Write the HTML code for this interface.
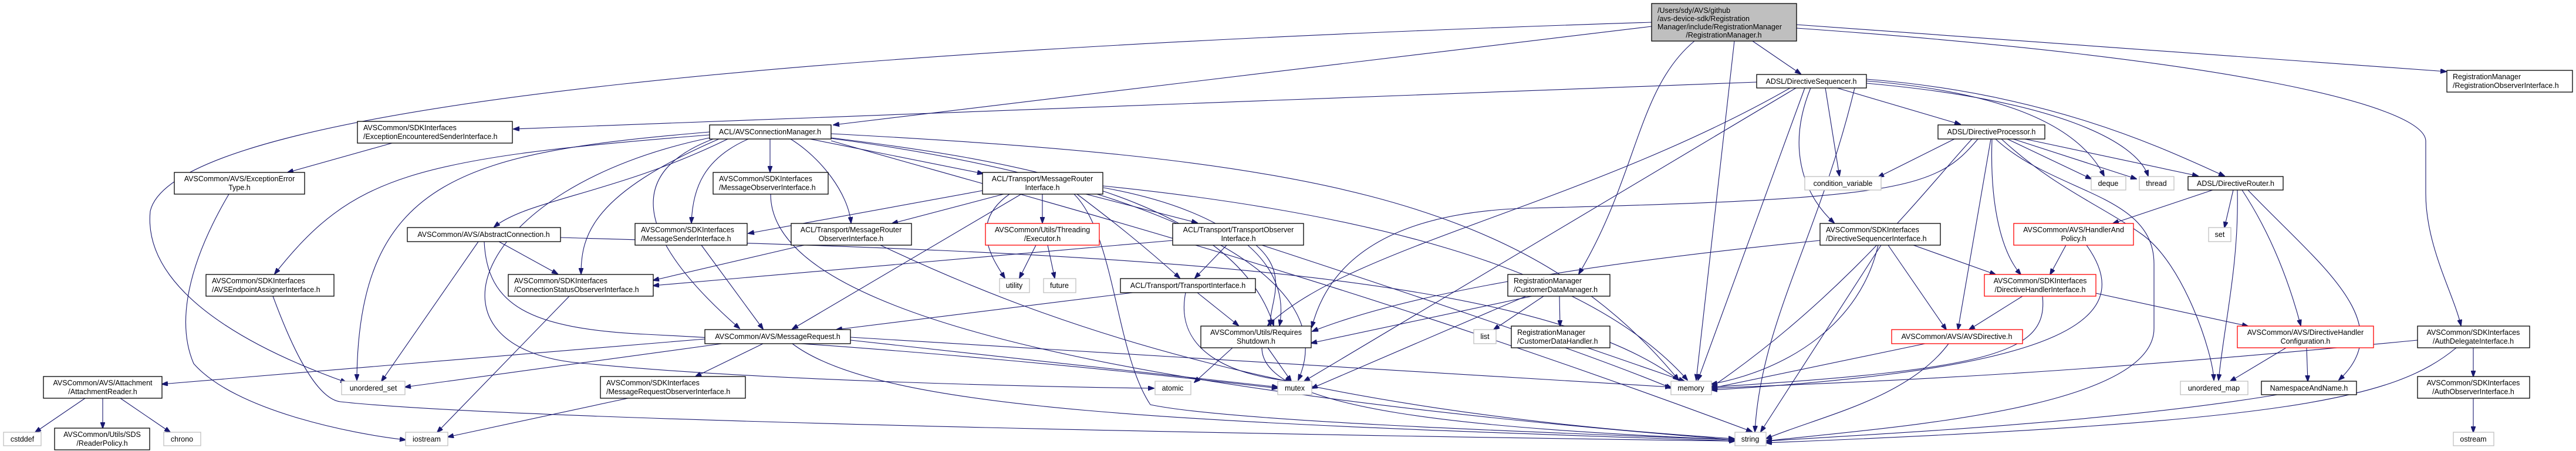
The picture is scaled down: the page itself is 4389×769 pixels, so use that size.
<!DOCTYPE html>
<html><head><meta charset="utf-8"><style>
html,body{margin:0;padding:0;background:#fff;}
svg{display:block;}
text{font-family:"Liberation Sans",sans-serif;font-size:12.5px;fill:#000;}
.b{fill:#fff;stroke:#000;stroke-width:1.3;}
.r{fill:#fff;stroke:#ff0000;stroke-width:1.3;}
.g{fill:#fff;stroke:#bfbfbf;stroke-width:1.3;}
.e path{fill:none;stroke:#191970;stroke-width:1.1;marker-end:url(#a);}
</style></head><body>
<svg width="4389" height="769" viewBox="0 0 4389 769" xmlns="http://www.w3.org/2000/svg">
<defs><marker id="a" markerUnits="userSpaceOnUse" markerWidth="11" markerHeight="8" refX="10" refY="4" orient="auto"><path d="M0,0 L11,4 L0,8 z" fill="#191970" stroke="#191970"/></marker></defs>
<g class="e">
<path d="M2814,45 L1420,213"/>
<path d="M2814,38 C1500,80 300,170 256,360 C240,520 500,620 590,652"/>
<path d="M2887,70 C2790,150 2790,300 2690,467"/>
<path d="M2955,70 L2890,648"/>
<path d="M2986,70 L3068,126"/>
<path d="M3061,42 L4168,122"/>
<path d="M3061,48 C3800,100 4130,180 4133,240 L4133,330 C4133,420 4180,500 4193,555"/>
<path d="M2993,140 L875,220"/>
<path d="M3060,150 L2222,650"/>
<path d="M3075,150 L2893,648"/>
<path d="M3050,150 C2700,350 2300,420 2160,555"/>
<path d="M3110,150 L3134,300"/>
<path d="M3085,150 C3040,260 3080,340 3125,380"/>
<path d="M3130,150 L3340,212"/>
<path d="M3180,138 C3450,160 3550,230 3585,300"/>
<path d="M3180,142 C3500,170 3640,240 3660,300"/>
<path d="M3180,135 C3500,160 3700,260 3790,300"/>
<path d="M3160,150 C3100,400 3000,550 2990,736"/>
<path d="M1209,225 C800,260 610,300 608,648"/>
<path d="M1209,230 C700,270 600,300 468,467"/>
<path d="M1240,237 C1050,330 900,340 842,387"/>
<path d="M1225,237 C1010,330 990,400 990,467"/>
<path d="M1275,237 C1200,270 1180,320 1178,380"/>
<path d="M1312,237 L1312,293"/>
<path d="M1347,237 C1400,270 1445,330 1450,380"/>
<path d="M1380,237 L1675,296"/>
<path d="M1215,237 C1050,300 1100,420 1260,560"/>
<path d="M1416,235 C1700,270 2100,330 2170,555"/>
<path d="M1416,228 C2200,270 2600,330 2860,648"/>
<path d="M1416,236 C1900,300 2300,450 2212,648"/>
<path d="M1416,240 C1800,350 2300,480 2985,736"/>
<path d="M1209,235 C800,320 700,600 1000,620 C1300,650 1800,660 1966,662"/>
<path d="M1313,331 C1313,500 1700,650 2955,750"/>
<path d="M1195,418 L1300,561"/>
<path d="M1370,418 L1113,478"/>
<path d="M1500,418 C1800,560 2200,700 2955,748"/>
<path d="M1674,325 L1275,398"/>
<path d="M1710,331 L1520,381"/>
<path d="M1776,331 L1776,380"/>
<path d="M1720,331 C1650,380 1690,440 1712,474"/>
<path d="M1850,331 L2040,380"/>
<path d="M1835,331 C1900,380 1950,420 2010,474"/>
<path d="M1740,331 L1350,561"/>
<path d="M1880,320 C2100,360 2200,450 2180,555"/>
<path d="M1879,317 C2300,360 2700,450 2875,648"/>
<path d="M1830,331 C1900,400 1900,600 1960,690 C2100,720 2700,740 2955,750"/>
<path d="M1765,418 L1737,474"/>
<path d="M1785,418 L1797,474"/>
<path d="M1998,410 L1113,487"/>
<path d="M2090,418 L2036,474"/>
<path d="M2140,418 C2200,470 2160,520 2165,555"/>
<path d="M2150,418 C2400,500 2700,600 2848,662"/>
<path d="M1930,499 L1425,562"/>
<path d="M2040,499 L2110,555"/>
<path d="M2020,499 C2000,600 2100,640 2200,650"/>
<path d="M1201,578 L276,655"/>
<path d="M1230,586 L690,660"/>
<path d="M1300,586 L1185,642"/>
<path d="M1449,575 L2847,660"/>
<path d="M1449,580 L2177,660"/>
<path d="M1350,586 C1500,700 2000,720 2956,752"/>
<path d="M1070,679 L763,745"/>
<path d="M2100,593 L2035,652"/>
<path d="M2160,593 L2200,650"/>
<path d="M2150,593 C2150,700 2500,730 2956,750"/>
<path d="M145,679 L60,737"/>
<path d="M175,679 L175,730"/>
<path d="M205,679 L290,737"/>
<path d="M668,244 L490,294"/>
<path d="M390,331 C320,450 300,550 330,620 C400,700 600,740 691,750"/>
<path d="M815,412 L650,650"/>
<path d="M850,412 L950,467"/>
<path d="M955,405 C1800,430 2600,450 2860,648"/>
<path d="M825,412 C830,520 900,560 1100,570 C1500,590 1900,630 2177,662"/>
<path d="M465,505 C500,600 540,680 580,685 C900,720 2400,745 2956,752"/>
<path d="M970,505 L745,737"/>
<path d="M2630,505 L2545,562"/>
<path d="M2657,505 L2658,556"/>
<path d="M2600,505 L2235,662"/>
<path d="M2610,505 L2234,585"/>
<path d="M2705,593 L2870,650"/>
<path d="M3217,418 L3316,562"/>
<path d="M3260,418 L3400,468"/>
<path d="M3200,418 C3170,550 3050,630 2916,655"/>
<path d="M3205,418 L3000,736"/>
<path d="M3101,410 C2700,450 2400,500 2236,565"/>
<path d="M3392,237 L3336,562"/>
<path d="M3394,237 C3390,350 3410,430 3443,468"/>
<path d="M3420,237 L3563,305"/>
<path d="M3430,237 L3640,305"/>
<path d="M3450,237 L3745,300"/>
<path d="M3410,237 C3500,320 3580,350 3650,400 C3720,450 3770,600 3772,648"/>
<path d="M3360,237 C3300,300 3150,500 2916,660"/>
<path d="M3400,237 C3500,330 3670,330 3670,450 L3670,560 C3670,700 3200,730 3009,752"/>
<path d="M3330,237 L3200,302"/>
<path d="M3370,237 C3300,320 3250,340 2600,355 C2300,365 2250,500 2235,558"/>
<path d="M3770,324 L3600,381"/>
<path d="M3805,324 L3790,388"/>
<path d="M3812,324 C3815,450 3790,550 3780,648"/>
<path d="M3820,324 C3870,400 3900,480 3920,555"/>
<path d="M3830,324 C3950,450 4090,550 3985,648"/>
<path d="M3520,418 L3493,468"/>
<path d="M3555,418 C3650,550 3500,630 2916,665"/>
<path d="M3446,505 L3355,562"/>
<path d="M3571,500 L3830,556"/>
<path d="M3480,505 C3490,600 3400,630 2916,660"/>
<path d="M3280,586 L2916,662"/>
<path d="M3320,586 C3250,680 3100,710 3009,748"/>
<path d="M3895,593 L3800,650"/>
<path d="M3930,593 L3932,650"/>
<path d="M3880,673 C3600,720 3200,740 3009,752"/>
<path d="M4214,593 L4214,642"/>
<path d="M4119,580 C3500,640 3200,650 2916,662"/>
<path d="M4185,593 C4080,680 3900,720 3009,755"/>
<path d="M4214,679 L4214,737"/>
</g>
<!-- nodes -->
<rect x="2814" y="6" width="247" height="64" fill="#bfbfbf" stroke="#000" stroke-width="1.3"/>
<text x="2824" y="22">/Users/sdy/AVS/github</text>
<text x="2824" y="36">/avs-device-sdk/Registration</text>
<text x="2824" y="50">Manager/include/RegistrationManager</text>
<text x="2937" y="64" text-anchor="middle">/RegistrationManager.h</text>

<rect class="b" x="609" y="207" width="264" height="37"/><text x="619" y="222">AVSCommon/SDKInterfaces</text><text x="619" y="237">/ExceptionEncounteredSenderInterface.h</text>
<rect class="b" x="297" y="294" width="222" height="37"/><text x="408" y="309" text-anchor="middle">AVSCommon/AVS/ExceptionError</text><text x="408" y="324" text-anchor="middle">Type.h</text>
<rect class="b" x="694" y="388" width="261" height="24"/><text x="824" y="404" text-anchor="middle">AVSCommon/AVS/AbstractConnection.h</text>
<rect class="b" x="351" y="468" width="218" height="37"/><text x="361" y="483">AVSCommon/SDKInterfaces</text><text x="361" y="498">/AVSEndpointAssignerInterface.h</text>
<rect class="b" x="866" y="468" width="247" height="37"/><text x="876" y="483">AVSCommon/SDKInterfaces</text><text x="876" y="498">/ConnectionStatusObserverInterface.h</text>
<rect class="g" x="582" y="650" width="108" height="23"/><text x="636" y="666" text-anchor="middle">unordered_set</text>
<rect class="b" x="74" y="642" width="202" height="37"/><text x="175" y="657" text-anchor="middle">AVSCommon/AVS/Attachment</text><text x="175" y="672" text-anchor="middle">/AttachmentReader.h</text>
<rect class="g" x="6" y="737" width="64" height="23"/><text x="38" y="753" text-anchor="middle">cstddef</text>
<rect class="b" x="93" y="730" width="162" height="37"/><text x="174" y="745" text-anchor="middle">AVSCommon/Utils/SDS</text><text x="174" y="760" text-anchor="middle">/ReaderPolicy.h</text>
<rect class="g" x="279" y="737" width="63" height="23"/><text x="310" y="753" text-anchor="middle">chrono</text>
<rect class="g" x="691" y="737" width="72" height="23"/><text x="727" y="753" text-anchor="middle">iostream</text>
<rect class="b" x="1023" y="642" width="247" height="37"/><text x="1033" y="657">AVSCommon/SDKInterfaces</text><text x="1033" y="672">/MessageRequestObserverInterface.h</text>
<rect class="b" x="1209" y="213" width="207" height="24"/><text x="1312" y="229" text-anchor="middle">ACL/AVSConnectionManager.h</text>
<rect class="b" x="1215" y="294" width="196" height="37"/><text x="1225" y="309">AVSCommon/SDKInterfaces</text><text x="1225" y="324">/MessageObserverInterface.h</text>
<rect class="b" x="1082" y="381" width="191" height="37"/><text x="1092" y="396">AVSCommon/SDKInterfaces</text><text x="1092" y="411">/MessageSenderInterface.h</text>
<rect class="b" x="1348" y="381" width="205" height="37"/><text x="1450" y="396" text-anchor="middle">ACL/Transport/MessageRouter</text><text x="1450" y="411" text-anchor="middle">ObserverInterface.h</text>
<rect class="b" x="1674" y="294" width="205" height="37"/><text x="1776" y="309" text-anchor="middle">ACL/Transport/MessageRouter</text><text x="1776" y="324" text-anchor="middle">Interface.h</text>
<rect class="r" x="1679" y="381" width="194" height="37"/><text x="1776" y="396" text-anchor="middle">AVSCommon/Utils/Threading</text><text x="1776" y="411" text-anchor="middle">/Executor.h</text>
<rect class="b" x="1998" y="381" width="223" height="37"/><text x="2110" y="396" text-anchor="middle">ACL/Transport/TransportObserver</text><text x="2110" y="411" text-anchor="middle">Interface.h</text>
<rect class="g" x="1703" y="475" width="51" height="24"/><text x="1728" y="491" text-anchor="middle">utility</text>
<rect class="g" x="1778" y="475" width="55" height="24"/><text x="1805" y="491" text-anchor="middle">future</text>
<rect class="b" x="1909" y="475" width="230" height="24"/><text x="2024" y="491" text-anchor="middle">ACL/Transport/TransportInterface.h</text>
<rect class="b" x="1201" y="562" width="248" height="24"/><text x="1325" y="578" text-anchor="middle">AVSCommon/AVS/MessageRequest.h</text>
<rect class="g" x="1968" y="650" width="61" height="23"/><text x="1998" y="666" text-anchor="middle">atomic</text>
<rect class="b" x="2046" y="556" width="188" height="37"/><text x="2140" y="571" text-anchor="middle">AVSCommon/Utils/Requires</text><text x="2140" y="586" text-anchor="middle">Shutdown.h</text>
<rect class="g" x="2177" y="650" width="58" height="23"/><text x="2206" y="666" text-anchor="middle">mutex</text>
<rect class="b" x="2993" y="127" width="187" height="23"/><text x="3086" y="143" text-anchor="middle">ADSL/DirectiveSequencer.h</text>
<rect class="g" x="3075" y="301" width="130" height="23"/><text x="3140" y="317" text-anchor="middle">condition_variable</text>
<rect class="b" x="3101" y="381" width="205" height="37"/><text x="3111" y="396">AVSCommon/SDKInterfaces</text><text x="3111" y="411">/DirectiveSequencerInterface.h</text>
<rect class="b" x="2569" y="468" width="174" height="37"/><text x="2579" y="483">RegistrationManager</text><text x="2579" y="498">/CustomerDataManager.h</text>
<rect class="g" x="2511" y="562" width="38" height="24"/><text x="2530" y="578" text-anchor="middle">list</text>
<rect class="b" x="2575" y="556" width="168" height="37"/><text x="2585" y="571">RegistrationManager</text><text x="2585" y="586">/CustomerDataHandler.h</text>
<rect class="g" x="2847" y="650" width="69" height="23"/><text x="2881" y="666" text-anchor="middle">memory</text>
<rect class="g" x="2956" y="737" width="53" height="23"/><text x="2982" y="753" text-anchor="middle">string</text>
<rect class="r" x="3223" y="562" width="223" height="24"/><text x="3334" y="578" text-anchor="middle">AVSCommon/AVS/AVSDirective.h</text>
<rect class="b" x="4169" y="120" width="214" height="37"/><text x="4179" y="135">RegistrationManager</text><text x="4179" y="150">/RegistrationObserverInterface.h</text>
<rect class="b" x="3302" y="213" width="182" height="24"/><text x="3393" y="229" text-anchor="middle">ADSL/DirectiveProcessor.h</text>
<rect class="g" x="3563" y="301" width="59" height="23"/><text x="3592" y="317" text-anchor="middle">deque</text>
<rect class="g" x="3645" y="301" width="59" height="23"/><text x="3674" y="317" text-anchor="middle">thread</text>
<rect class="b" x="3728" y="301" width="162" height="23"/><text x="3809" y="317" text-anchor="middle">ADSL/DirectiveRouter.h</text>
<rect class="r" x="3431" y="381" width="204" height="37"/><text x="3533" y="396" text-anchor="middle">AVSCommon/AVS/HandlerAnd</text><text x="3533" y="411" text-anchor="middle">Policy.h</text>
<rect class="g" x="3763" y="388" width="38" height="24"/><text x="3782" y="404" text-anchor="middle">set</text>
<rect class="r" x="3381" y="468" width="190" height="37"/><text x="3476" y="483" text-anchor="middle">AVSCommon/SDKInterfaces</text><text x="3476" y="498" text-anchor="middle">/DirectiveHandlerInterface.h</text>
<rect class="r" x="3812" y="556" width="232" height="37"/><text x="3928" y="571" text-anchor="middle">AVSCommon/AVS/DirectiveHandler</text><text x="3928" y="586" text-anchor="middle">Configuration.h</text>
<rect class="b" x="4119" y="556" width="191" height="37"/><text x="4214" y="571" text-anchor="middle">AVSCommon/SDKInterfaces</text><text x="4214" y="586" text-anchor="middle">/AuthDelegateInterface.h</text>
<rect class="g" x="3715" y="650" width="115" height="23"/><text x="3772" y="666" text-anchor="middle">unordered_map</text>
<rect class="b" x="3853" y="650" width="162" height="23"/><text x="3934" y="666" text-anchor="middle">NamespaceAndName.h</text>
<rect class="b" x="4119" y="642" width="191" height="37"/><text x="4214" y="657" text-anchor="middle">AVSCommon/SDKInterfaces</text><text x="4214" y="672" text-anchor="middle">/AuthObserverInterface.h</text>
<rect class="g" x="4180" y="737" width="69" height="23"/><text x="4214" y="753" text-anchor="middle">ostream</text>
</svg>
</body></html>
